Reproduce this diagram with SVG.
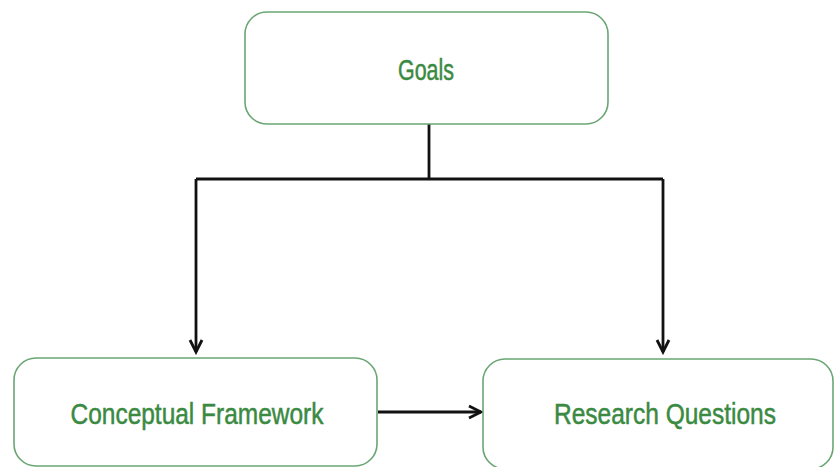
<svg xmlns="http://www.w3.org/2000/svg" width="835" height="467" viewBox="0 0 835 467">
<style>
.box{fill:#fff;stroke:#6aa673;stroke-width:1.6}
.lbl{font-family:"Liberation Sans",Arial,sans-serif;font-size:29px;fill:#3a8a42;stroke:#3a8a42;stroke-width:0.5;text-anchor:middle}
.conn{fill:none;stroke:#111;stroke-width:2.8}
</style>
<defs>
<marker id="arr" markerUnits="userSpaceOnUse" markerWidth="16" markerHeight="16" refX="13" refY="7" orient="auto" viewBox="0 0 16 14">
<path d="M1,1 L13,7 L1,13" fill="none" stroke="#111" stroke-width="2.8"/>
</marker>
</defs>
<rect width="835" height="467" fill="#fff"/>
<g id="connectors">
<path class="conn" d="M429,124 V179"/>
<path class="conn" d="M196,179 H663"/>
<path class="conn" d="M196,179 V352" marker-end="url(#arr)"/>
<path class="conn" d="M663,179 V352" marker-end="url(#arr)"/>
<path class="conn" d="M378,412 H481" marker-end="url(#arr)"/>
</g>
<g id="goals">
<rect class="box" x="245" y="12" width="363" height="112" rx="22"/>
<text class="lbl" x="426" y="80" textLength="56" lengthAdjust="spacingAndGlyphs">Goals</text>
</g>
<g id="conceptual-framework">
<rect class="box" x="14" y="358" width="363" height="108" rx="22"/>
<text class="lbl" x="197" y="424" textLength="253" lengthAdjust="spacingAndGlyphs">Conceptual Framework</text>
</g>
<g id="research-questions">
<rect class="box" x="483" y="359" width="350" height="110" rx="22"/>
<text class="lbl" x="665" y="424" textLength="222" lengthAdjust="spacingAndGlyphs">Research Questions</text>
</g>
</svg>
